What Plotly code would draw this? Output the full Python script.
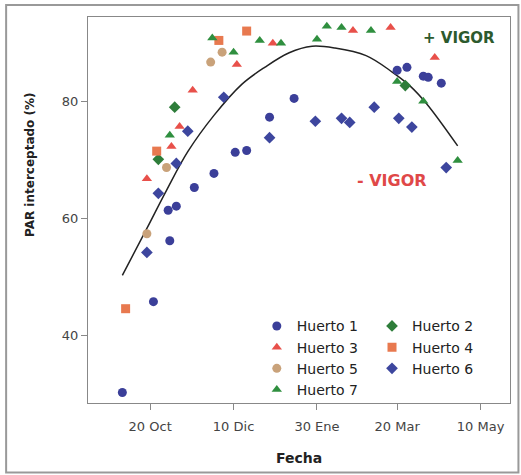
import plotly.graph_objects as go

# ---- data ----
h1_dates = ["2012-10-03", "2012-10-22", "2012-10-31", "2012-11-01", "2012-11-05", "2012-11-16",
            "2012-11-28", "2012-12-11", "2012-12-18", "2013-01-01", "2013-01-16", "2013-03-20",
            "2013-03-26", "2013-04-05", "2013-04-08", "2013-04-16"]
h1_vals = [30.3, 45.8, 61.4, 56.2, 62.1, 65.3, 67.7, 71.3, 71.6, 77.3, 80.5, 85.3, 85.8, 84.3, 84.1, 83.1]

h2_dates = ["2012-10-25", "2012-11-04", "2013-03-25"]
h2_vals = [70.1, 79.0, 82.7]

h3_dates = ["2012-10-18", "2012-11-02", "2012-11-07", "2012-11-15", "2012-12-12", "2013-01-03",
            "2013-02-21", "2013-03-16", "2013-04-12"]
h3_vals = [66.8, 72.3, 75.7, 81.9, 86.3, 89.9, 92.1, 92.6, 87.5]

h4_dates = ["2012-10-05", "2012-10-24", "2012-12-01", "2012-12-18"]
h4_vals = [44.6, 71.5, 90.4, 92.0]

h5_dates = ["2012-10-18", "2012-10-30", "2012-11-26", "2012-12-03"]
h5_vals = [57.4, 68.7, 86.7, 88.4]

h6_dates = ["2012-10-18", "2012-10-25", "2012-11-05", "2012-11-12", "2012-12-04", "2013-01-01",
            "2013-01-29", "2013-02-14", "2013-02-19", "2013-03-06", "2013-03-21", "2013-03-29",
            "2013-04-19"]
h6_vals = [54.2, 64.3, 69.4, 74.9, 80.7, 73.8, 76.6, 77.1, 76.4, 79.0, 77.1, 75.6, 68.7]

h7_dates = ["2012-11-01", "2012-11-27", "2012-12-10", "2012-12-26", "2013-01-08", "2013-01-30",
            "2013-02-05", "2013-02-14", "2013-03-04", "2013-03-20", "2013-04-05", "2013-04-26"]
h7_vals = [74.2, 90.8, 88.4, 90.4, 89.9, 90.6, 92.8, 92.6, 92.1, 83.4, 80.0, 69.9]

# fitted curve, points
fit_dates = ["2012-10-03", "2012-10-18", "2012-10-30", "2012-11-12", "2012-11-28", "2012-12-15",
             "2012-12-29", "2013-01-13", "2013-01-27", "2013-02-10", "2013-03-01", "2013-03-17",
             "2013-03-28", "2013-04-07", "2013-04-26"]
fit_vals = [50.3, 58.3, 64.8, 71.4, 77.6, 82.9, 85.8, 88.3, 89.4, 89.1, 87.8, 85.0, 82.6, 79.6, 72.4]

tick_dates = ["2012-10-20", "2012-12-10", "2013-01-30", "2013-03-20", "2013-05-10"]
tick_text = ["20 Oct", "10 Dic", "30 Ene", "20 Mar", "10 May"]
y_ticks = [40, 60, 80]

series = [
    ("Huerto 1", h1_dates, h1_vals, "circle", "#3b3f99", "legend"),
    ("Huerto 2", h2_dates, h2_vals, "diamond", "#2e7d3a", "legend2"),
    ("Huerto 3", h3_dates, h3_vals, "triangle-up", "#e8504a", "legend"),
    ("Huerto 4", h4_dates, h4_vals, "square", "#e8794f", "legend2"),
    ("Huerto 5", h5_dates, h5_vals, "circle", "#c9a27a", "legend"),
    ("Huerto 6", h6_dates, h6_vals, "diamond", "#3d469e", "legend2"),
    ("Huerto 7", h7_dates, h7_vals, "triangle-up", "#2f8f3f", "legend"),
]

fig = go.Figure()
fig.add_trace(go.Scatter(x=fit_dates, y=fit_vals, mode="lines", line=dict(color="#222", width=1.5, shape="spline"),
                         showlegend=False, hoverinfo="skip"))
for name, xs, ys, sym, col, lg in series:
    fig.add_trace(go.Scatter(x=xs, y=ys, mode="markers", name=name, legend=lg,
                             marker=dict(symbol=sym, color=col, size=9)))

font_main = "DejaVu Sans"
legend_common = dict(bgcolor="rgba(0,0,0,0)", font=dict(family=font_main, size=14, color="#222"),
                     yanchor="top", xanchor="left", tracegroupgap=0)

fig.update_layout(
    width=521, height=475,
    margin=dict(l=88, r=11, t=17, b=72),
    paper_bgcolor="white", plot_bgcolor="white",
    font=dict(family=font_main, color="#333"),
    xaxis=dict(type="date", range=["2012-09-12", "2013-05-28"], tickvals=tick_dates, ticktext=tick_text,
               showgrid=False, zeroline=False, showline=True, linecolor="#888", linewidth=1, mirror=True,
               ticks="outside", ticklen=6, tickcolor="#888", tickfont=dict(size=13, color="#444"),
               ticklabelstandoff=5,
               title=dict(text="<b>Fecha</b>", font=dict(size=14, color="#222"), standoff=20)),
    yaxis=dict(range=[28.5, 94.4], tickvals=y_ticks, showgrid=False, zeroline=False, showline=True,
               linecolor="#888", linewidth=1, mirror=True, ticks="outside", ticklen=6, tickcolor="#888",
               tickfont=dict(size=13, color="#444")),
    legend=dict(x=0.40, y=0.24, **legend_common),
    legend2=dict(x=0.673, y=0.24, **legend_common),
    annotations=[
        dict(text="<b>PAR interceptado (%)</b>", xref="paper", yref="paper", x=-0.137, y=0.617,
             xanchor="center", yanchor="middle",
             textangle=-90, showarrow=False, font=dict(size=12, color="#222")),
        dict(text="<b>+ VIGOR</b>", xref="paper", yref="paper", x=0.88, y=0.945, showarrow=False,
             xanchor="center", yanchor="middle", font=dict(size=15, color="#2d5a2d")),
        dict(text="<b>- VIGOR</b>", xref="paper", yref="paper", x=0.72, y=0.576, showarrow=False,
             xanchor="center", yanchor="middle", font=dict(size=16, color="#e04848")),
    ],
    shapes=[dict(type="rect", xref="paper", yref="paper", x0=-0.194, x1=1.02, y0=-0.18, y1=1.031,
                 line=dict(color="#999", width=2), fillcolor="rgba(0,0,0,0)", layer="below")],
)

fig.write_html("out.html")
